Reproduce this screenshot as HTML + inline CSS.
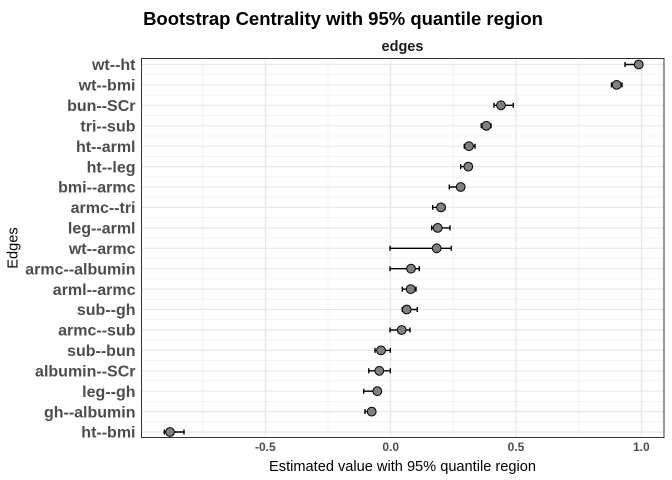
<!DOCTYPE html>
<html>
<head>
<meta charset="utf-8">
<style>
  html, body { margin: 0; padding: 0; background: #ffffff; }
  svg { display: block; }
  text { font-family: "Liberation Sans", Arial, sans-serif; }
</style>
</head>
<body>
<svg width="672" height="480" viewBox="0 0 672 480" xmlns="http://www.w3.org/2000/svg">
  <rect x="0" y="0" width="672" height="480" fill="#ffffff"/>

  <!-- Title -->
  <text x="343" y="25" text-anchor="middle" font-size="18.5" font-weight="bold" fill="#000">Bootstrap Centrality with 95% quantile region</text>

  <!-- Strip label -->
  <text x="402.5" y="51" text-anchor="middle" font-size="14.5" font-weight="bold" fill="#1a1a1a">edges</text>

  <!-- Grid: minor horizontal -->
  <g stroke="#f2f2f2" stroke-width="0.8">
    <line x1="141.5" x2="664" y1="74.7" y2="74.7"/>
    <line x1="141.5" x2="664" y1="95.1" y2="95.1"/>
    <line x1="141.5" x2="664" y1="115.5" y2="115.5"/>
    <line x1="141.5" x2="664" y1="136.0" y2="136.0"/>
    <line x1="141.5" x2="664" y1="156.4" y2="156.4"/>
    <line x1="141.5" x2="664" y1="176.8" y2="176.8"/>
    <line x1="141.5" x2="664" y1="197.2" y2="197.2"/>
    <line x1="141.5" x2="664" y1="217.6" y2="217.6"/>
    <line x1="141.5" x2="664" y1="238.1" y2="238.1"/>
    <line x1="141.5" x2="664" y1="258.5" y2="258.5"/>
    <line x1="141.5" x2="664" y1="278.9" y2="278.9"/>
    <line x1="141.5" x2="664" y1="299.3" y2="299.3"/>
    <line x1="141.5" x2="664" y1="319.7" y2="319.7"/>
    <line x1="141.5" x2="664" y1="340.2" y2="340.2"/>
    <line x1="141.5" x2="664" y1="360.6" y2="360.6"/>
    <line x1="141.5" x2="664" y1="381.0" y2="381.0"/>
    <line x1="141.5" x2="664" y1="401.4" y2="401.4"/>
    <line x1="141.5" x2="664" y1="421.8" y2="421.8"/>
  </g>
  <!-- Grid: minor vertical -->
  <g stroke="#f2f2f2" stroke-width="0.8">
    <line x1="202.7" x2="202.7" y1="58.5" y2="437.5"/>
    <line x1="328.0" x2="328.0" y1="58.5" y2="437.5"/>
    <line x1="453.3" x2="453.3" y1="58.5" y2="437.5"/>
    <line x1="578.7" x2="578.7" y1="58.5" y2="437.5"/>
  </g>
  <!-- Grid: major horizontal -->
  <g stroke="#e8e8e8" stroke-width="1.2">
    <line x1="141.5" x2="664" y1="64.5" y2="64.5"/>
    <line x1="141.5" x2="664" y1="84.9" y2="84.9"/>
    <line x1="141.5" x2="664" y1="105.3" y2="105.3"/>
    <line x1="141.5" x2="664" y1="125.8" y2="125.8"/>
    <line x1="141.5" x2="664" y1="146.2" y2="146.2"/>
    <line x1="141.5" x2="664" y1="166.6" y2="166.6"/>
    <line x1="141.5" x2="664" y1="187.0" y2="187.0"/>
    <line x1="141.5" x2="664" y1="207.4" y2="207.4"/>
    <line x1="141.5" x2="664" y1="227.9" y2="227.9"/>
    <line x1="141.5" x2="664" y1="248.3" y2="248.3"/>
    <line x1="141.5" x2="664" y1="268.7" y2="268.7"/>
    <line x1="141.5" x2="664" y1="289.1" y2="289.1"/>
    <line x1="141.5" x2="664" y1="309.5" y2="309.5"/>
    <line x1="141.5" x2="664" y1="330.0" y2="330.0"/>
    <line x1="141.5" x2="664" y1="350.4" y2="350.4"/>
    <line x1="141.5" x2="664" y1="370.8" y2="370.8"/>
    <line x1="141.5" x2="664" y1="391.2" y2="391.2"/>
    <line x1="141.5" x2="664" y1="411.6" y2="411.6"/>
    <line x1="141.5" x2="664" y1="432.0" y2="432.0"/>
  </g>
  <!-- Grid: major vertical -->
  <g stroke="#e8e8e8" stroke-width="1.2">
    <line x1="265.3" x2="265.3" y1="58.5" y2="437.5"/>
    <line x1="390.7" x2="390.7" y1="58.5" y2="437.5"/>
    <line x1="516.0" x2="516.0" y1="58.5" y2="437.5"/>
    <line x1="641.3" x2="641.3" y1="58.5" y2="437.5"/>
  </g>

  <!-- Error bars -->
  <g stroke="#000" stroke-width="1.4" fill="none">
    <path d="M625 64.5H640 M625 62V67 M640 62V67"/>
    <path d="M611.5 84.9H622 M611.5 82.4V87.4 M622 82.4V87.4"/>
    <path d="M494 105.3H513.3 M494 102.8V107.8 M513.3 102.8V107.8"/>
    <path d="M481.3 125.8H491 M481.3 123.3V128.3 M491 123.3V128.3"/>
    <path d="M464.3 146.2H475 M464.3 143.7V148.7 M475 143.7V148.7"/>
    <path d="M460.7 166.6H470 M460.7 164.1V169.1 M470 164.1V169.1"/>
    <path d="M449.3 187H462 M449.3 184.5V189.5 M462 184.5V189.5"/>
    <path d="M432.7 207.4H445 M432.7 204.9V209.9 M445 204.9V209.9"/>
    <path d="M431.7 227.9H450 M431.7 225.4V230.4 M450 225.4V230.4"/>
    <path d="M390 248.3H451.3 M390 245.8V250.8 M451.3 245.8V250.8"/>
    <path d="M390 268.7H419.3 M390 266.2V271.2 M419.3 266.2V271.2"/>
    <path d="M402.3 289.1H416 M402.3 286.6V291.6 M416 286.6V291.6"/>
    <path d="M402.3 309.5H417.3 M402.3 307V312 M417.3 307V312"/>
    <path d="M390 330H410 M390 327.5V332.5 M410 327.5V332.5"/>
    <path d="M375 350.4H390.3 M375 347.9V352.9 M390.3 347.9V352.9"/>
    <path d="M368.7 370.8H390.3 M368.7 368.3V373.3 M390.3 368.3V373.3"/>
    <path d="M363.7 391.2H380 M363.7 388.7V393.7 M380 388.7V393.7"/>
    <path d="M365 411.6H375 M365 409.1V414.1 M375 409.1V414.1"/>
    <path d="M164.3 432H184 M164.3 429.5V434.5 M184 429.5V434.5"/>
  </g>

  <!-- Points -->
  <g fill="#808080" stroke="#000" stroke-width="1">
    <circle cx="638.7" cy="64.5" r="4.4"/>
    <circle cx="616.7" cy="84.9" r="4.4"/>
    <circle cx="501" cy="105.3" r="4.4"/>
    <circle cx="486.3" cy="125.8" r="4.4"/>
    <circle cx="469" cy="146.2" r="4.4"/>
    <circle cx="468.3" cy="166.6" r="4.4"/>
    <circle cx="460.7" cy="187" r="4.4"/>
    <circle cx="441" cy="207.4" r="4.4"/>
    <circle cx="437.7" cy="227.9" r="4.4"/>
    <circle cx="436.7" cy="248.3" r="4.4"/>
    <circle cx="411" cy="268.7" r="4.4"/>
    <circle cx="410.7" cy="289.1" r="4.4"/>
    <circle cx="406.7" cy="309.5" r="4.4"/>
    <circle cx="401.7" cy="330" r="4.4"/>
    <circle cx="381" cy="350.4" r="4.4"/>
    <circle cx="379.3" cy="370.8" r="4.4"/>
    <circle cx="377.3" cy="391.2" r="4.4"/>
    <circle cx="371.7" cy="411.6" r="4.4"/>
    <circle cx="170" cy="432" r="4.4"/>
  </g>

  <!-- Panel border -->
  <rect x="141.5" y="58.5" width="522.5" height="379" fill="none" stroke="#333333" stroke-width="1"/>

  <!-- Y tick labels -->
  <g font-size="16" font-weight="bold" fill="#4d4d4d" text-anchor="end">
    <text x="135.5" y="70.2">wt--ht</text>
    <text x="135.5" y="90.6">wt--bmi</text>
    <text x="135.5" y="111.0">bun--SCr</text>
    <text x="135.5" y="131.5">tri--sub</text>
    <text x="135.5" y="151.9">ht--arml</text>
    <text x="135.5" y="172.3">ht--leg</text>
    <text x="135.5" y="192.7">bmi--armc</text>
    <text x="135.5" y="213.1">armc--tri</text>
    <text x="135.5" y="233.6">leg--arml</text>
    <text x="135.5" y="254.0">wt--armc</text>
    <text x="135.5" y="274.4">armc--albumin</text>
    <text x="135.5" y="294.8">arml--armc</text>
    <text x="135.5" y="315.2">sub--gh</text>
    <text x="135.5" y="335.7">armc--sub</text>
    <text x="135.5" y="356.1">sub--bun</text>
    <text x="135.5" y="376.5">albumin--SCr</text>
    <text x="135.5" y="396.9">leg--gh</text>
    <text x="135.5" y="417.3">gh--albumin</text>
    <text x="135.5" y="437.7">ht--bmi</text>
  </g>

  <!-- X tick labels -->
  <g font-size="12" font-weight="bold" fill="#4d4d4d" text-anchor="middle">
    <text x="265.3" y="451">-0.5</text>
    <text x="390.7" y="451">0.0</text>
    <text x="516" y="451">0.5</text>
    <text x="641.3" y="451">1.0</text>
  </g>

  <!-- Axis titles -->
  <text x="402.5" y="471" text-anchor="middle" font-size="14.6" fill="#000">Estimated value with 95% quantile region</text>
  <text transform="translate(17.5,248) rotate(-90)" text-anchor="middle" font-size="14.6" fill="#000">Edges</text>
</svg>
</body>
</html>
